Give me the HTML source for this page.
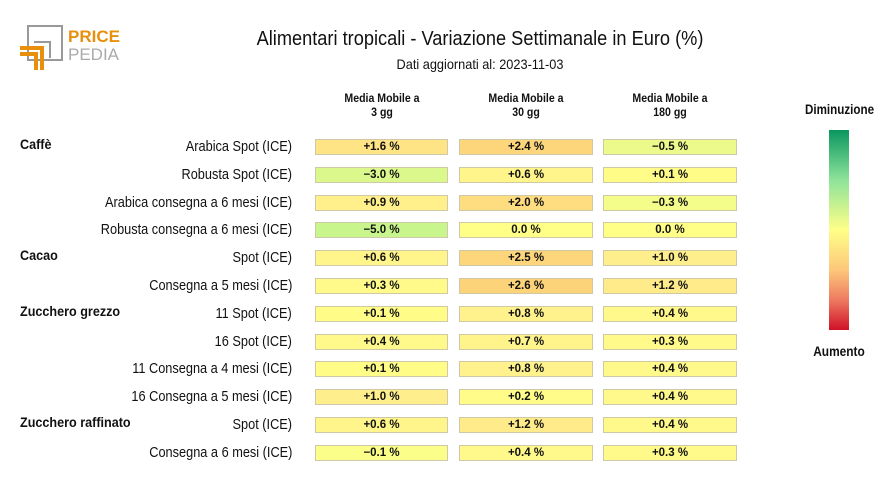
<!DOCTYPE html>
<html><head><meta charset="utf-8">
<style>
body{margin:0;width:880px;height:480px;background:#fff;font-family:"Liberation Sans Narrow","Liberation Sans",sans-serif;overflow:hidden;position:relative;color:#111}
.abs{position:absolute}
.title{left:0;width:960px;top:28px;text-align:center;font-size:20px;transform:scaleX(0.91);transform-origin:480px 0}
.sub{left:0;width:960px;top:56px;text-align:center;font-size:14px;transform:scaleX(0.91);transform-origin:480px 0}
.hdr{font-weight:bold;font-size:12px;text-align:center;width:134px;line-height:14px;transform:scaleX(0.88)}
.grp{font-weight:bold;font-size:14px;left:20px;transform:scaleX(0.9);transform-origin:0 0;white-space:nowrap}
.lab{font-size:15px;right:588px;text-align:right;white-space:nowrap;transform:scaleX(0.85);transform-origin:100% 0}
.cell{height:16px;border:1px solid #cfc9a8;box-sizing:border-box;font-weight:bold;font-size:11.5px;text-align:center;line-height:15px}
</style></head><body>
<svg class="abs" style="left:18px;top:24px" width="110" height="50">
<rect x="10" y="2" width="34" height="34" fill="none" stroke="#999" stroke-width="2"/>
<path d="M16 18 H32 V34" fill="none" stroke="#999" stroke-width="2"/>
<path d="M2 24 H24 V46" fill="none" stroke="#e8900c" stroke-width="4"/>
<path d="M2 30 H18 V46" fill="none" stroke="#e8900c" stroke-width="4"/>
<text x="50" y="18" font-family="Liberation Sans" font-weight="bold" font-size="17" fill="#e8900c">PRICE</text>
<text x="50" y="36" font-family="Liberation Sans" font-size="17" fill="#aaa">PEDIA</text>
</svg>
<div class="abs title">Alimentari tropicali - Variazione Settimanale in Euro (%)</div>
<div class="abs sub">Dati aggiornati al: 2023-11-03</div>
<div class="abs hdr" style="left:315px;top:91px">Media Mobile a<br>3 gg</div>
<div class="abs hdr" style="left:459px;top:91px">Media Mobile a<br>30 gg</div>
<div class="abs hdr" style="left:603px;top:91px">Media Mobile a<br>180 gg</div>
<div class="abs" style="left:798px;top:101px;width:82px;text-align:center;font-weight:bold;font-size:14px;transform:scaleX(0.83)">Diminuzione</div>
<div class="abs" style="left:829px;top:130px;width:20px;height:200px;background:linear-gradient(#0a9660,#8ee39a 25%,#ffff88 50%,#fdc77a 70%,#ee7a60 85%,#d01028)"></div>
<div class="abs" style="left:800px;top:343px;width:78px;text-align:center;font-weight:bold;font-size:14px;transform:scaleX(0.85)">Aumento</div>
<div id="rows"></div>
<script>
const groups=["Caffè","","","","Cacao","","Zucchero grezzo","","","","Zucchero raffinato",""];
const labels=["Arabica Spot (ICE)","Robusta Spot (ICE)","Arabica consegna a 6 mesi (ICE)","Robusta consegna a 6 mesi (ICE)","Spot (ICE)","Consegna a 5 mesi (ICE)","11 Spot (ICE)","16 Spot (ICE)","11 Consegna a 4 mesi (ICE)","16 Consegna a 5 mesi (ICE)","Spot (ICE)","Consegna a 6 mesi (ICE)"];
const mm3=[1.6,-3.0,0.9,-5.0,0.6,0.3,0.1,0.4,0.1,1.0,0.6,-0.1];
const mm30=[2.4,0.6,2.0,0.0,2.5,2.6,0.8,0.7,0.8,0.2,1.2,0.4];
const mm180=[-0.5,0.1,-0.3,0.0,1.0,1.2,0.4,0.3,0.4,0.4,0.4,0.3];
const stops=[[-5,[200,245,140]],[-3,[218,248,140]],[-0.5,[236,250,140]],[0,[255,255,136]],[1,[255,238,140]],[2.6,[253,211,122]],[5,[245,160,100]]];
function col(v){if(v<=stops[0][0])return stops[0][1];for(let i=1;i<stops.length;i++){if(v<=stops[i][0]){const a=stops[i-1],b=stops[i],t=(v-a[0])/(b[0]-a[0]);return a[1].map((c,k)=>Math.round(c+(b[1][k]-c)*t));}}return stops[stops.length-1][1];}
function fmt(v){return (v>0?"+":v<0?"−":"")+Math.abs(v).toFixed(1)+" %";}
const root=document.getElementById('rows');
const cols=[[mm3,315,133,"3gg"],[mm30,459,134,"30gg"],[mm180,603,134,"180gg"]];
labels.forEach((l,i)=>{
 const yc=147+i*27.8;
 if(groups[i]){const g=document.createElement('div');g.className='abs grp';g.style.top=(yc-11)+'px';g.textContent=groups[i];
 
 root.appendChild(g);}
 const d=document.createElement('div');d.className='abs lab';d.style.top=(yc-9)+'px';d.textContent=l;
 
 root.appendChild(d);
 cols.forEach(([arr,x,w,n])=>{const c=document.createElement('div');c.className='abs cell';
 c.style.left=x+'px';c.style.width=w+'px';c.style.top=(yc-8)+'px';
 const rgb=col(arr[i]);c.style.background='rgb('+rgb.join(',')+')';c.textContent=fmt(arr[i]);
 
 root.appendChild(c);});
});
</script>
</body></html>
